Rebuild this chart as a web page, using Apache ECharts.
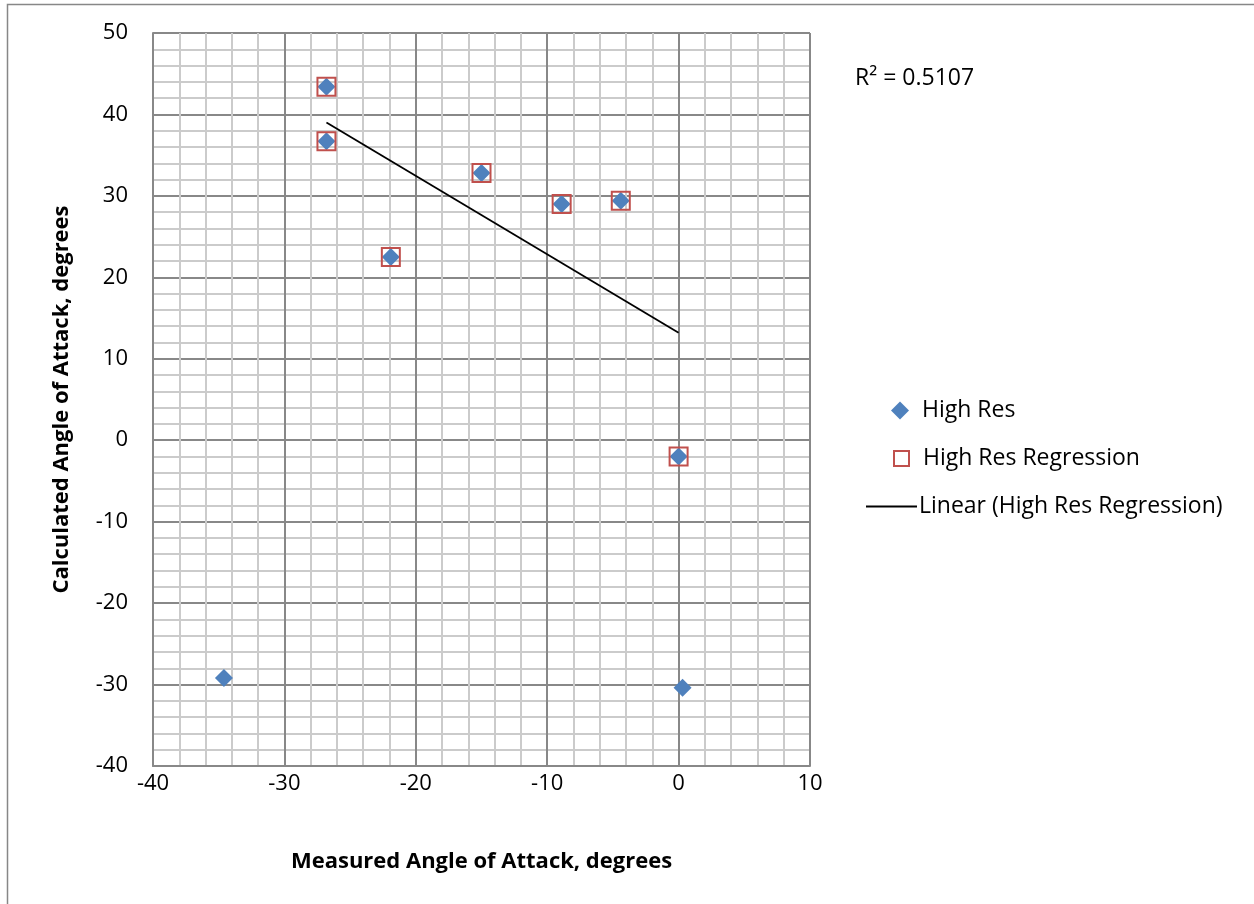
<!DOCTYPE html>
<html>
<head>
<meta charset="utf-8">
<script src="https://cdn.jsdelivr.net/npm/echarts@6/dist/echarts.min.js"></script>
<style>html,body{margin:0;padding:0;background:#fff;}#c{width:1254px;height:904px;}</style>
</head>
<body>
<div id="c"></div>
<script>
// High Res data (measured, calculated)
var highResX = [-34.6, -26.8, -26.8, -21.9, -15.0, -8.9, -4.4, 0.0, 0.3];
var highResY = [-29.2, 43.4, 36.7, 22.5, 32.8, 29.0, 29.4, -2.0, -30.4];
// High Res Regression subset
var regX = [-26.8, -26.8, -21.9, -15.0, -8.9, -4.4, 0.0];
var regY = [43.4, 36.7, 22.5, 32.8, 29.0, 29.4, -2.0];
// Linear trendline end points
var trendX = [-26.8, 0.0];
var trendY = [39.0, 13.2];
var xTicks = [-40, -30, -20, -10, 0, 10];
var yTicks = [-40, -30, -20, -10, 0, 10, 20, 30, 40, 50];
var r2Label = 'R\u00b2 = 0.5107';

function zip(a, b) { return a.map(function (v, i) { return [v, b[i]]; }); }

var FONT = 'Open Sans';
var chart = echarts.init(document.getElementById('c'), null, { renderer: 'canvas' });
var gridLine = { show: true, lineStyle: { color: '#888888', width: 2 } };
var minorLine = { show: true, lineStyle: { color: '#cbcbcb', width: 2 } };

chart.setOption({
  animation: false,
  backgroundColor: '#fff',
  textStyle: { fontFamily: FONT },
  grid: { left: 153, top: 33, width: 657, height: 733, containLabel: false, show: false },
  xAxis: {
    type: 'value', min: xTicks[0], max: xTicks[xTicks.length - 1], interval: 10,
    axisLine: { show: true, onZero: false, lineStyle: { color: '#888888', width: 2 } },
    axisTick: { show: false },
    axisLabel: { fontSize: 22, color: '#000', margin: 7, fontFamily: FONT },
    splitLine: gridLine,
    minorTick: { show: false, splitNumber: 5 },
    minorSplitLine: minorLine,
    name: 'Measured Angle of Attack, degrees', nameLocation: 'middle', nameGap: 85,
    nameTextStyle: { fontSize: 22, fontWeight: 'bold', color: '#000', fontFamily: FONT }
  },
  yAxis: {
    type: 'value', min: yTicks[0], max: yTicks[yTicks.length - 1], interval: 10,
    axisLine: { show: true, onZero: false, lineStyle: { color: '#888888', width: 2 } },
    axisTick: { show: false },
    axisLabel: { fontSize: 22, color: '#000', margin: 25, fontFamily: FONT },
    splitLine: gridLine,
    minorTick: { show: false, splitNumber: 5 },
    minorSplitLine: minorLine,
    name: 'Calculated Angle of Attack, degrees', nameLocation: 'middle', nameGap: 80,
    nameTextStyle: { fontSize: 22, fontWeight: 'bold', color: '#000', fontFamily: FONT }
  },
  legend: [
    {
      data: [{ name: 'High Res', icon: 'diamond', itemStyle: { color: '#4f81bd', opacity: 1 } }],
      left: 886, top: 394, itemWidth: 18, itemHeight: 18,
      textStyle: { fontSize: 23, color: '#000', fontFamily: FONT, padding: [0, 0, 0, 8] }
    },
    {
      data: [{ name: 'High Res Regression', icon: 'rect',
        itemStyle: { color: '#fff', borderColor: '#c0504d', borderWidth: 2, opacity: 1 } }],
      left: 888, top: 442, itemWidth: 15, itemHeight: 15,
      textStyle: { fontSize: 23, color: '#000', fontFamily: FONT, padding: [0, 0, 0, 9] }
    },
    {
      data: [{ name: 'Linear (High Res Regression)', icon: 'rect',
        itemStyle: { color: '#000', borderWidth: 0 } }],
      left: 861, top: 490, itemWidth: 51, itemHeight: 2,
      textStyle: { fontSize: 23, color: '#000', fontFamily: FONT, padding: [0, 0, 0, -3] }
    }
  ],
  graphic: [
    { type: 'rect', shape: { x: 7.5, y: 4.5, width: 1300, height: 1000 },
      style: { fill: 'none', stroke: '#878787', lineWidth: 1.5 }, z: 100 },
    { type: 'text', left: 855, top: 67,
      style: { text: r2Label, fontSize: 23, fill: '#000', fontFamily: FONT } }
  ],
  series: [
    {
      name: 'High Res', type: 'scatter', data: zip(highResX, highResY),
      symbol: 'diamond', symbolSize: [18, 18],
      itemStyle: { color: '#4f81bd', opacity: 1 }, z: 3
    },
    {
      name: 'High Res Regression', type: 'scatter', data: zip(regX, regY),
      symbol: 'rect', symbolSize: [18, 18],
      itemStyle: { color: 'rgba(0,0,0,0)', borderColor: '#c0504d', borderWidth: 2, opacity: 1 }, z: 4
    },
    {
      name: 'Linear (High Res Regression)', type: 'line', data: zip(trendX, trendY),
      symbol: 'none', lineStyle: { color: '#000', width: 1.8 }, itemStyle: { color: '#000' }, z: 5
    }
  ]
});
</script>
</body>
</html>
